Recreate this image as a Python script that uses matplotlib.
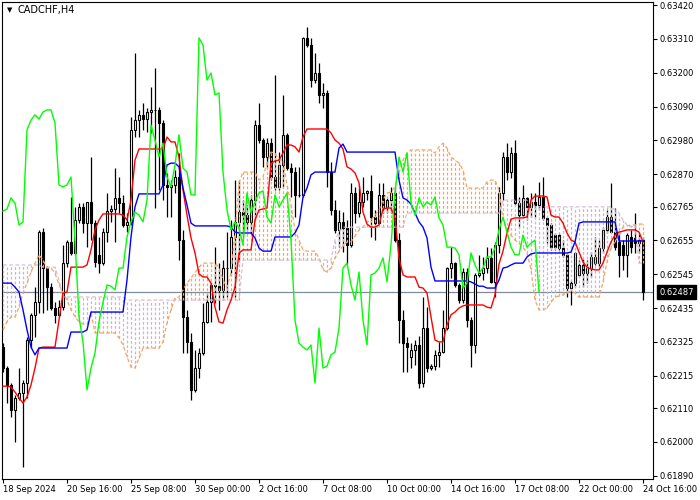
import matplotlib
matplotlib.use("Agg")
import matplotlib.pyplot as plt
import matplotlib.transforms as mtransforms
import numpy as np

plt.rcParams['font.family'] = ['DejaVu Sans']

# ---------------- data ----------------
symbol_title = "CADCHF,H4"
x_tick_labels = ["18 Sep 2024", "20 Sep 16:00", "25 Sep 08:00", "30 Sep 00:00", "2 Oct 16:00",
                 "7 Oct 08:00", "10 Oct 00:00", "14 Oct 16:00", "17 Oct 08:00", "22 Oct 00:00",
                 "24 Oct 16:00"]
y_ticks = [0.63420, 0.63310, 0.63200, 0.63090, 0.62980, 0.62870, 0.62765, 0.62655,
           0.62545, 0.62435, 0.62325, 0.62215, 0.62110, 0.62000, 0.61890]
last_price = 0.62487
chikou_shift = 26

open_ = [
 .62308, .62240, .62185, .62104, .62143, .62159, .62191, .62331, .62413, .62454,
 .62682, .62565, .62503, .62435, .62413, .62438, .62581, .62650, .62614, .62721,
 .62764, .62711, .62780, .62711, .62608, .62581, .62682, .62750, .62757, .62793,
 .62776, .62705, .62715, .63014, .63046, .63063, .63049, .63072, .63079, .63079,
 .63036, .62835, .62829, .62835, .62861, .62656, .62406, .62325, .62169, .62240,
 .62289, .62390, .62454, .62510, .62506, .62494, .62565, .62565, .62666, .62715,
 .62747, .62737, .62715, .62786, .63030, .62981, .62926, .62971, .62861, .62829,
 .62900, .62998, .62890, .62877, .62803, .62803, .63313, .63290, .63176, .63199,
 .63128, .63134, .62877, .62754, .62689, .62715, .62695, .62640, .62809, .62744,
 .62780, .62809, .62816, .62731, .62711, .62803, .62764, .62786, .62809, .62656,
 .62396, .62321, .62276, .62299, .62315, .62191, .62370, .62240, .62246, .62283,
 .62292, .62370, .62565, .62581, .62510, .62461, .62552, .62396, .62315, .62543,
 .62549, .62565, .62598, .62520, .62640, .62809, .62926, .62877, .62939, .62776,
 .62737, .62793, .62764, .62780, .62770, .62796, .62728, .62705, .62672, .62672,
 .62630, .62608, .62500, .62516, .62543, .62575, .62549, .62565, .62581, .62581,
 .62630, .62689, .62731, .62682, .62650, .62640, .62608, .62666, .62663, .62646,
 .62656]
high_ = [
 .62321, .62246, .62191, .62153, .62240, .62201, .62341, .62419, .62503, .62689,
 .62695, .62571, .62516, .62454, .62461, .62640, .62656, .62796, .62764, .62776,
 .62776, .62780, .62926, .62721, .62666, .62695, .62809, .62770, .62890, .62861,
 .62803, .62744, .63056, .63264, .63079, .63101, .63085, .63153, .63215, .63088,
 .63046, .62874, .62851, .62884, .62939, .62689, .62429, .62354, .62299, .62305,
 .62451, .62484, .62516, .62633, .62581, .62591, .62682, .62721, .62851, .62851,
 .62786, .62770, .62803, .63046, .63101, .62988, .62988, .62988, .63193, .62942,
 .63128, .63004, .62906, .62894, .62894, .63316, .63349, .63313, .63264, .63231,
 .63166, .63144, .62910, .62786, .62754, .62747, .62721, .62842, .62829, .62835,
 .62861, .62819, .62868, .62754, .62842, .62842, .62793, .62829, .62829, .62679,
 .62429, .62341, .62321, .62331, .62344, .62471, .62438, .62253, .62299, .62325,
 .62429, .62568, .62633, .62584, .62516, .62565, .62565, .62406, .62549, .62608,
 .62601, .62633, .62630, .62650, .62829, .62942, .62971, .62959, .62981, .62796,
 .62835, .62796, .62809, .62809, .62845, .62861, .62731, .62711, .62679, .62679,
 .62656, .62614, .62526, .62617, .62591, .62594, .62591, .62617, .62666, .62656,
 .62698, .62754, .62842, .62760, .62679, .62656, .62679, .62689, .62744, .62679,
 .62666]
low_ = [
 .62227, .62126, .62081, .61999, .62136, .61918, .62143, .62305, .62341, .62419,
 .62419, .62429, .62429, .62386, .62406, .62429, .62568, .62608, .62608, .62711,
 .62679, .62633, .62656, .62568, .62549, .62575, .62650, .62715, .62650, .62744,
 .62698, .62682, .62705, .62991, .62991, .63014, .63007, .63004, .62760, .62819,
 .62786, .62731, .62731, .62809, .62591, .62289, .62289, .62136, .62162, .62208,
 .62283, .62386, .62390, .62451, .62429, .62461, .62471, .62549, .62471, .62591,
 .62666, .62689, .62679, .62721, .62971, .62894, .62894, .62851, .62819, .62819,
 .62829, .62884, .62796, .62731, .62796, .62796, .63284, .63153, .63166, .63101,
 .63085, .62829, .62737, .62679, .62633, .62617, .62575, .62633, .62711, .62731,
 .62764, .62786, .62666, .62656, .62711, .62744, .62744, .62744, .62650, .62321,
 .62227, .62227, .62240, .62250, .62175, .62178, .62227, .62234, .62234, .62243,
 .62289, .62364, .62533, .62503, .62451, .62451, .62373, .62243, .62289, .62536,
 .62526, .62549, .62516, .62471, .62614, .62786, .62851, .62858, .62770, .62698,
 .62731, .62721, .62731, .62731, .62754, .62721, .62646, .62624, .62624, .62624,
 .62601, .62471, .62445, .62503, .62536, .62503, .62516, .62536, .62575, .62568,
 .62614, .62679, .62679, .62624, .62536, .62559, .62536, .62614, .62614, .62614,
 .62461]
close_ = [
 .62240, .62185, .62104, .62143, .62159, .62191, .62331, .62413, .62454, .62682,
 .62565, .62503, .62435, .62413, .62438, .62581, .62650, .62614, .62721, .62764,
 .62711, .62780, .62711, .62584, .62581, .62682, .62750, .62757, .62793, .62776,
 .62705, .62715, .63014, .63046, .63063, .63049, .63072, .63079, .63079, .63036,
 .62835, .62829, .62835, .62861, .62656, .62406, .62325, .62169, .62240, .62289,
 .62390, .62454, .62510, .62506, .62494, .62565, .62565, .62666, .62715, .62747,
 .62737, .62715, .62786, .63030, .62981, .62926, .62971, .62861, .62829, .62900,
 .62998, .62890, .62877, .62803, .62803, .63313, .63290, .63176, .63199, .63128,
 .63134, .62877, .62754, .62689, .62715, .62695, .62640, .62809, .62744, .62780,
 .62809, .62816, .62731, .62711, .62803, .62764, .62786, .62809, .62656, .62396,
 .62321, .62308, .62299, .62315, .62191, .62370, .62240, .62246, .62283, .62292,
 .62370, .62565, .62581, .62510, .62461, .62552, .62396, .62315, .62543, .62549,
 .62565, .62598, .62520, .62640, .62809, .62926, .62877, .62939, .62776, .62737,
 .62793, .62764, .62780, .62770, .62796, .62728, .62705, .62633, .62633, .62630,
 .62608, .62500, .62516, .62614, .62575, .62549, .62565, .62601, .62601, .62630,
 .62689, .62731, .62682, .62633, .62608, .62608, .62672, .62633, .62646, .62656,
 .62487]

tenkan = [
 .62181, .62181, .62178, .62162, .62143, .62126, .62146, .62185, .62240, .62305,
 .62308, .62308, .62308, .62308, .62396, .62484, .62487, .62568, .62568, .62568,
 .62568, .62575, .62624, .62689, .62721, .62741, .62741, .62741, .62741, .62741,
 .62737, .62721, .62786, .62916, .62952, .62952, .62952, .62952, .62952, .62952,
 .62952, .62991, .62975, .62975, .62926, .62819, .62737, .62663, .62614, .62546,
 .62536, .62536, .62516, .62438, .62390, .62386, .62429, .62461, .62503, .62614,
 .62624, .62624, .62624, .62721, .62754, .62757, .62760, .62906, .62913, .62916,
 .62939, .62965, .62965, .62959, .62942, .62991, .63017, .63017, .63017, .63017,
 .63017, .63017, .63004, .62981, .62971, .62952, .62894, .62887, .62874, .62842,
 .62747, .62708, .62698, .62698, .62705, .62757, .62760, .62760, .62728, .62598,
 .62543, .62536, .62536, .62536, .62503, .62500, .62484, .62406, .62331, .62325,
 .62325, .62380, .62413, .62422, .62435, .62442, .62445, .62445, .62445, .62445,
 .62445, .62438, .62435, .62478, .62578, .62620, .62679, .62724, .62728, .62728,
 .62728, .62731, .62786, .62799, .62799, .62799, .62796, .62737, .62731, .62731,
 .62711, .62679, .62656, .62650, .62617, .62585, .62568, .62562, .62559, .62559,
 .62581, .62617, .62650, .62672, .62682, .62685, .62689, .62689, .62689, .62682,
 .62650]
kijun = [
 .62516, .62516, .62516, .62503, .62487, .62429, .62364, .62308, .62283, .62305,
 .62305, .62305, .62305, .62305, .62305, .62305, .62305, .62357, .62357, .62357,
 .62357, .62364, .62422, .62422, .62422, .62422, .62422, .62422, .62422, .62422,
 .62422, .62526, .62666, .62764, .62806, .62806, .62806, .62806, .62806, .62806,
 .62835, .62900, .62906, .62906, .62894, .62825, .62770, .62711, .62702, .62702,
 .62702, .62702, .62702, .62702, .62702, .62702, .62702, .62698, .62682, .62679,
 .62679, .62679, .62679, .62663, .62630, .62620, .62620, .62620, .62666, .62666,
 .62666, .62666, .62666, .62679, .62705, .62796, .62825, .62868, .62877, .62877,
 .62877, .62877, .62877, .62877, .62955, .62968, .62942, .62942, .62942, .62942,
 .62942, .62942, .62942, .62942, .62942, .62942, .62942, .62942, .62942, .62851,
 .62793, .62786, .62773, .62744, .62715, .62698, .62663, .62568, .62523, .62523,
 .62523, .62523, .62523, .62523, .62523, .62523, .62523, .62520, .62513, .62506,
 .62506, .62500, .62500, .62500, .62526, .62565, .62568, .62575, .62581, .62581,
 .62581, .62601, .62611, .62614, .62614, .62614, .62614, .62614, .62614, .62614,
 .62614, .62614, .62617, .62650, .62711, .62715, .62715, .62715, .62715, .62715,
 .62715, .62715, .62715, .62715, .62653, .62653, .62653, .62653, .62653, .62653,
 .62653]
span_a = [
 .62364, .62390, .62406, .62406, .62438, .62484, .62516, .62552, .62581, .62608,
 .62591, .62565, .62565, .62549, .62510, .62484, .62461, .62429, .62406, .62390,
 .62383, .62383, .62419, .62354, .62354, .62354, .62354, .62354, .62354, .62338,
 .62315, .62276, .62243, .62240, .62273, .62305, .62305, .62305, .62305, .62305,
 .62325, .62386, .62429, .62468, .62471, .62494, .62516, .62533, .62549, .62568,
 .62581, .62581, .62581, .62581, .62568, .62526, .62503, .62549, .62679, .62842,
 .62877, .62877, .62877, .62877, .62851, .62861, .62906, .62942, .62939, .62916,
 .62916, .62835, .62770, .62689, .62656, .62624, .62620, .62620, .62620, .62598,
 .62559, .62552, .62565, .62598, .62620, .62637, .62650, .62650, .62669, .62689,
 .62698, .62715, .62721, .62737, .62754, .62786, .62809, .62812, .62829, .62874,
 .62916, .62939, .62949, .62949, .62949, .62949, .62949, .62949, .62939, .62959,
 .62971, .62955, .62926, .62916, .62906, .62884, .62825, .62825, .62825, .62825,
 .62825, .62845, .62851, .62851, .62819, .62721, .62689, .62672, .62656, .62646,
 .62633, .62614, .62559, .62461, .62429, .62429, .62435, .62454, .62471, .62474,
 .62478, .62484, .62490, .62484, .62471, .62471, .62471, .62471, .62471, .62471,
 .62520, .62585, .62630, .62650, .62672, .62698, .62702, .62705, .62705, .62708,
 .62708]
span_b = [
 .62575, .62575, .62575, .62575, .62575, .62575, .62575, .62575, .62575, .62575,
 .62568, .62568, .62568, .62568, .62526, .62471, .62471, .62471, .62471, .62471,
 .62471, .62471, .62471, .62471, .62471, .62471, .62471, .62471, .62471, .62471,
 .62471, .62461, .62461, .62461, .62461, .62461, .62461, .62461, .62461, .62461,
 .62461, .62461, .62461, .62461, .62461, .62461, .62461, .62461, .62461, .62461,
 .62461, .62461, .62461, .62461, .62461, .62461, .62461, .62461, .62461, .62461,
 .62591, .62591, .62591, .62591, .62591, .62591, .62591, .62591, .62591, .62591,
 .62591, .62591, .62591, .62591, .62591, .62591, .62591, .62591, .62591, .62591,
 .62591, .62591, .62591, .62656, .62682, .62698, .62698, .62698, .62698, .62698,
 .62698, .62698, .62698, .62698, .62698, .62698, .62698, .62698, .62698, .62698,
 .62698, .62744, .62744, .62744, .62744, .62744, .62744, .62744, .62744, .62744,
 .62744, .62744, .62744, .62744, .62744, .62744, .62744, .62744, .62744, .62744,
 .62744, .62744, .62744, .62744, .62744, .62786, .62786, .62786, .62786, .62786,
 .62786, .62786, .62786, .62764, .62764, .62764, .62764, .62764, .62764, .62764,
 .62764, .62764, .62764, .62764, .62764, .62764, .62764, .62764, .62764, .62764,
 .62764, .62764, .62764, .62754, .62744, .62721, .62705, .62698, .62705, .62581,
 .62581]

# ---------------- figure ----------------
W, H = 700, 500
fig = plt.figure(figsize=(W / 100, H / 100), dpi=100, facecolor="white")
ax = fig.add_axes([2 / W, 21 / H, 651 / W, 477 / H])
ax.set_facecolor("white")

o = np.array(open_); h = np.array(high_); l = np.array(low_); c = np.array(close_)
x = np.arange(len(c))

# current price line
ax.axhline(last_price, color="#7f8b99", lw=0.9, zorder=1)

# candles
ax.vlines(x, l, h, colors="black", lw=0.9, zorder=2)
up = c >= o
body_h = np.maximum(np.abs(c - o), 0.000004)
ax.bar(x, body_h, bottom=np.minimum(o, c), width=0.62,
       color=np.where(up, "white", "black"), edgecolor="black", linewidth=0.8, zorder=3)

# cloud (hatched by dotted verticals)
a = np.array(span_a); b = np.array(span_b)
na = min(len(a), len(b))
xa = np.arange(na)
a = a[:na]; b = b[:na]
bull = a >= b
ax.vlines(xa[bull], np.minimum(a, b)[bull], np.maximum(a, b)[bull], colors="#F4A460",
          linestyles=(0, (2.2, 1.6)), lw=0.9, zorder=4)
ax.vlines(xa[~bull], np.minimum(a, b)[~bull], np.maximum(a, b)[~bull], colors="#CDB3CD",
          linestyles=(0, (2.2, 1.6)), lw=0.9, zorder=4)
ax.plot(xa, a, color="#F4A460", lw=0.9, ls=(0, (3, 2)), zorder=5)
ax.plot(xa, b, color="#D8BFD8", lw=0.9, ls=(0, (3, 2)), zorder=5)

# tenkan / kijun / chikou
ax.plot(np.arange(len(tenkan)), tenkan, color="#FF0000", lw=1.0, zorder=6)
ax.plot(np.arange(len(kijun)), kijun, color="#0000FF", lw=1.0, zorder=6)
ax.plot(x[:len(c) - chikou_shift], c[chikou_shift:], color="#00FF00", lw=1.0, zorder=6)

# axes
ax.set_xlim(-0.25, 162.5)
ax.set_ylim(0.618793, 0.634298)
for s in ax.spines.values():
    s.set_color("black"); s.set_linewidth(0.8)

ax.yaxis.tick_right()
ax.set_yticks(y_ticks)
ax.set_yticklabels([f"{v:.5f}" for v in y_ticks])
ax.tick_params(axis="y", direction="out", length=3, width=0.8, pad=1.5, labelsize=6, colors="black")

ax.set_xticks(np.arange(0, 16 * len(x_tick_labels), 16))
ax.set_xticklabels(x_tick_labels)
for lab in ax.get_xticklabels():
    lab.set_horizontalalignment("left")
ax.tick_params(axis="x", direction="out", length=3, width=0.8, pad=1.5, labelsize=6, colors="black")

# current price label
tr = mtransforms.blended_transform_factory(ax.transAxes, ax.transData)
ax.text(1 + 6 / 651, last_price, f"{last_price:.5f}", transform=tr, ha="left", va="center",
        color="white", fontsize=6, clip_on=False, zorder=10,
        bbox=dict(boxstyle="square,pad=0.3", fc="black", ec="black"))

# title
fig.text(9.5 / W, 1 - 10 / H, "\u25BC", fontsize=5, ha="center", va="center", color="black")
fig.text(18 / W, 1 - 10.5 / H, symbol_title, fontsize=7, ha="left", va="center", color="black")

fig.savefig("out.png", dpi=100, facecolor="white")
